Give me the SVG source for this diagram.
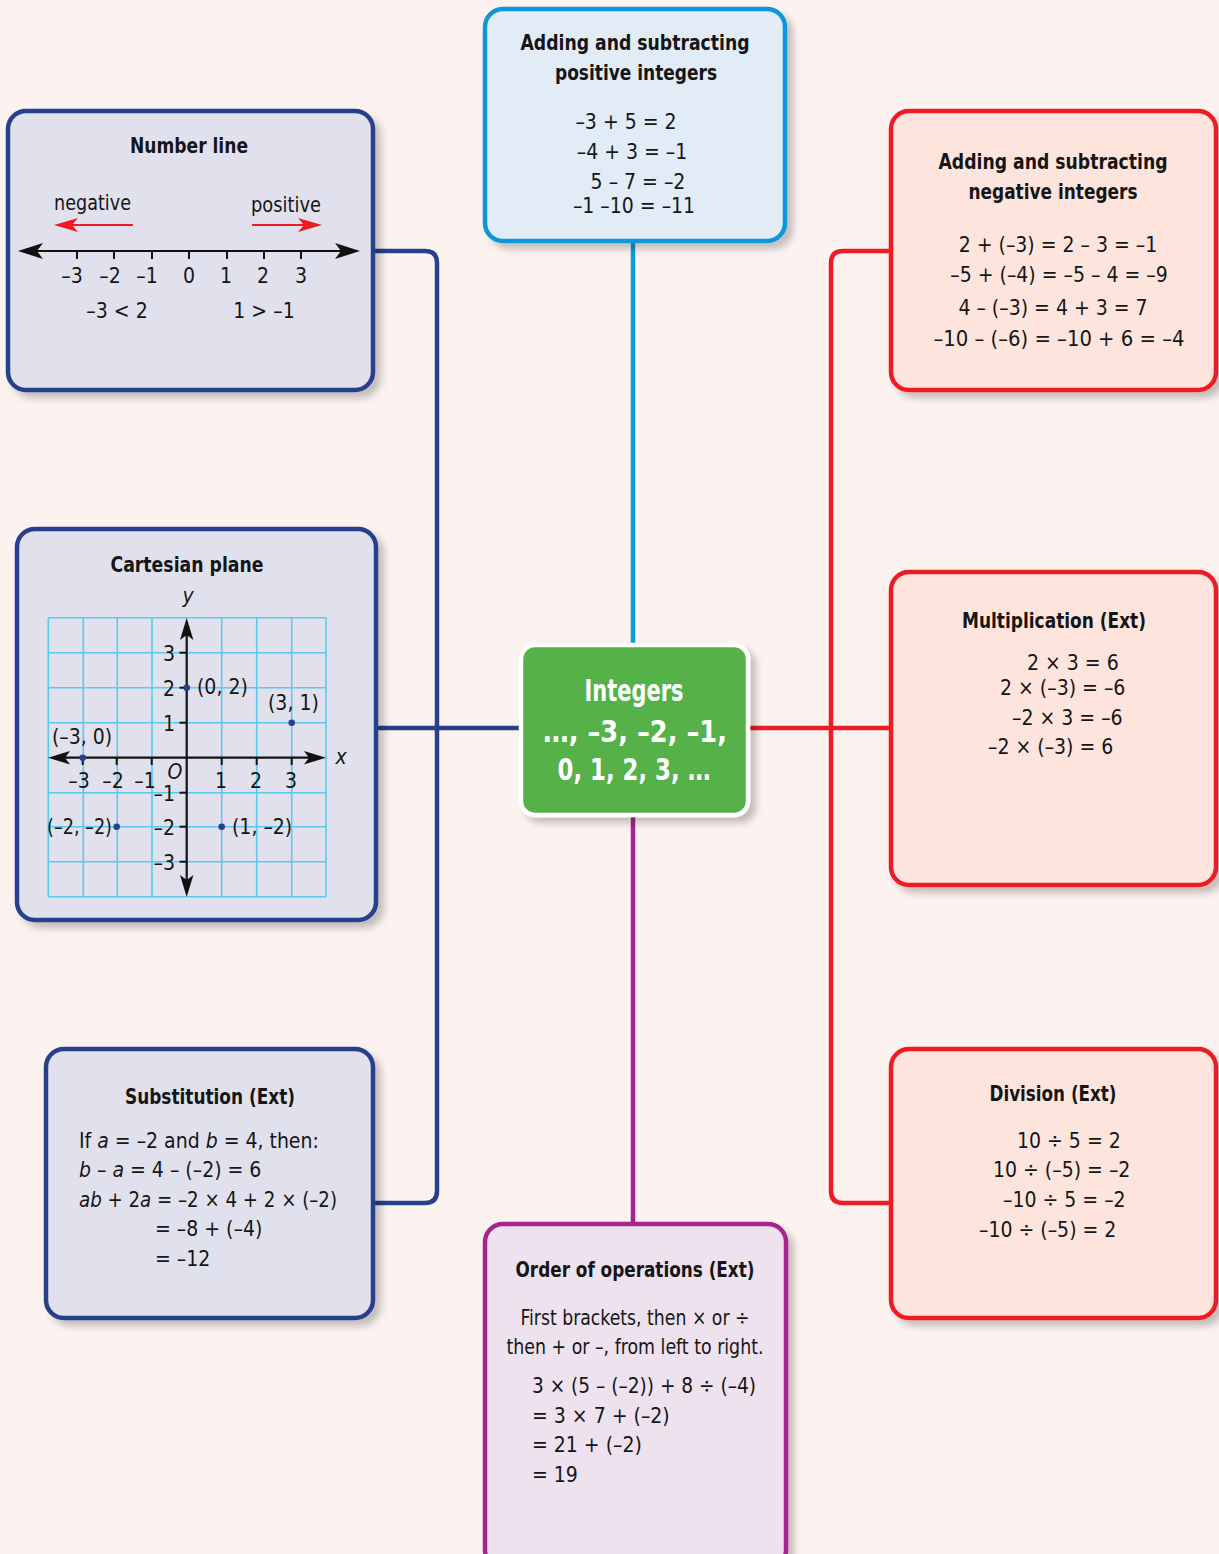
<svg xmlns="http://www.w3.org/2000/svg" width="1219" height="1554" viewBox="0 0 1219 1554">
<defs>
<filter id="sh" x="-10%" y="-10%" width="130%" height="130%">
<feDropShadow dx="6" dy="6" stdDeviation="3.5" flood-color="#000" flood-opacity="0.22"/>
</filter>
<style>
.t{font-family:"Liberation Sans Narrow","DejaVu Sans Condensed","Liberation Sans",Arial,sans-serif;font-size:21px;fill:#151515}
.h{font-weight:bold;font-size:22px;text-anchor:middle}
.c{text-anchor:middle}
.e{text-anchor:end}
.i{font-style:italic}
.w{font-weight:bold;font-size:31px;fill:#fff;text-anchor:middle}
.bl{fill:#e1e1ee;stroke:#273f8d;stroke-width:4.5}
.lb{fill:#e1ecf7;stroke:#1197d8;stroke-width:4.5}
.rd{fill:#fde5dd;stroke:#ed1c24;stroke-width:4.5}
.pu{fill:#eee2ef;stroke:#a3258e;stroke-width:4.5}
.grid line{stroke:#5cc8f0;stroke-width:1.6}
.ax{stroke:#111;stroke-width:2.2;fill:none}
.tk{stroke:#111;stroke-width:2}
.dot{fill:#273f8d}
</style>
</defs>
<rect width="1219" height="1554" fill="#fcf3f0"/>

<g id="connectors" fill="none" stroke-width="4.5">
<path d="M373,251 H425 Q437,251 437,263 V1191 Q437,1203 425,1203 H373" stroke="#273f8d"/>
<path d="M376,728 H520" stroke="#273f8d"/>
<path d="M890,251 H843 Q831,251 831,263 V1191 Q831,1203 843,1203 H890" stroke="#ed1c24"/>
<path d="M748,728 H890" stroke="#ed1c24"/>
<path d="M633,241 V646" stroke="#1197d8"/>
<path d="M633,813 V1224" stroke="#a3258e"/>
</g>

<g id="number-line">
<rect x="8" y="111" width="365" height="279" rx="18" class="bl" filter="url(#sh)"/>
<text x="189" y="153" class="t h" textLength="118" lengthAdjust="spacingAndGlyphs">Number line</text>
<text x="54" y="210" class="t" textLength="77" lengthAdjust="spacingAndGlyphs">negative</text>
<text x="251" y="212" class="t" textLength="70" lengthAdjust="spacingAndGlyphs">positive</text>
<line x1="70" y1="225" x2="133" y2="225" stroke="#ed1c24" stroke-width="2"/>
<path d="M54,225 L78,218 L72,225 L78,232 Z" fill="#ed1c24"/>
<line x1="252" y1="225" x2="306" y2="225" stroke="#ed1c24" stroke-width="2"/>
<path d="M322,225 L298,218 L304,225 L298,232 Z" fill="#ed1c24"/>
<line x1="30" y1="251" x2="348" y2="251" class="ax"/>
<path d="M18,251 L43,243 L37,251 L43,259 Z" fill="#111"/>
<path d="M360,251 L335,243 L341,251 L335,259 Z" fill="#111"/>
<g class="tk">
<line x1="77" y1="251" x2="77" y2="259"/><line x1="114" y1="251" x2="114" y2="259"/><line x1="152" y1="251" x2="152" y2="259"/><line x1="189" y1="251" x2="189" y2="259"/><line x1="227" y1="251" x2="227" y2="259"/><line x1="264" y1="251" x2="264" y2="259"/><line x1="301" y1="251" x2="301" y2="259"/>
</g>
<text x="72" y="283" class="t c">–3</text>
<text x="110" y="283" class="t c">–2</text>
<text x="147" y="283" class="t c">–1</text>
<text x="189" y="283" class="t c">0</text>
<text x="226" y="283" class="t c">1</text>
<text x="263" y="283" class="t c">2</text>
<text x="301" y="283" class="t c">3</text>
<text x="117" y="318" class="t c">–3 &lt; 2</text>
<text x="264" y="318" class="t c">1 &gt; –1</text>
</g>

<g id="cartesian-plane">
<rect x="17" y="529" width="359" height="391" rx="18" class="bl" filter="url(#sh)"/>
<text x="187" y="572" class="t h" textLength="153" lengthAdjust="spacingAndGlyphs">Cartesian plane</text>
<g class="grid">
<line x1="48.3" y1="617.7" x2="48.3" y2="896.7"/><line x1="83.3" y1="617.7" x2="83.3" y2="896.7"/><line x1="117.3" y1="617.7" x2="117.3" y2="896.7"/><line x1="152" y1="617.7" x2="152" y2="896.7"/><line x1="221.7" y1="617.7" x2="221.7" y2="896.7"/><line x1="256.7" y1="617.7" x2="256.7" y2="896.7"/><line x1="291.7" y1="617.7" x2="291.7" y2="896.7"/><line x1="326" y1="617.7" x2="326" y2="896.7"/>
<line x1="48.3" y1="617.7" x2="326" y2="617.7"/><line x1="48.3" y1="652.7" x2="326" y2="652.7"/><line x1="48.3" y1="687.7" x2="326" y2="687.7"/><line x1="48.3" y1="722.7" x2="326" y2="722.7"/><line x1="48.3" y1="792.7" x2="326" y2="792.7"/><line x1="48.3" y1="826.7" x2="326" y2="826.7"/><line x1="48.3" y1="861.7" x2="326" y2="861.7"/><line x1="48.3" y1="896.7" x2="326" y2="896.7"/>
</g>
<line x1="58" y1="757.7" x2="316" y2="757.7" class="ax"/>
<line x1="186.7" y1="628" x2="186.7" y2="887" class="ax"/>
<path d="M48,757.7 L70,751 L65,757.7 L70,764.4 Z" fill="#111"/>
<path d="M326,757.7 L304,751 L309,757.7 L304,764.4 Z" fill="#111"/>
<path d="M186.7,618 L180,640 L186.7,635 L193.4,640 Z" fill="#111"/>
<path d="M186.7,897 L180,875 L186.7,880 L193.4,875 Z" fill="#111"/>
<g class="tk">
<line x1="82.7" y1="757.7" x2="82.7" y2="765"/><line x1="116.7" y1="757.7" x2="116.7" y2="765"/><line x1="151.7" y1="757.7" x2="151.7" y2="765"/><line x1="221.7" y1="757.7" x2="221.7" y2="765"/><line x1="256.7" y1="757.7" x2="256.7" y2="765"/><line x1="291.7" y1="757.7" x2="291.7" y2="765"/>
<line x1="179.5" y1="652.7" x2="186.7" y2="652.7"/><line x1="179.5" y1="687.7" x2="186.7" y2="687.7"/><line x1="179.5" y1="722.7" x2="186.7" y2="722.7"/><line x1="179.5" y1="792.7" x2="186.7" y2="792.7"/><line x1="179.5" y1="826.7" x2="186.7" y2="826.7"/><line x1="179.5" y1="861.7" x2="186.7" y2="861.7"/>
</g>
<text x="188" y="603" class="t c i">y</text>
<text x="341" y="764" class="t c i">x</text>
<text x="175" y="779" class="t c i">O</text>
<text x="79" y="788" class="t c">–3</text>
<text x="113" y="788" class="t c">–2</text>
<text x="145" y="788" class="t c">–1</text>
<text x="221" y="788" class="t c">1</text>
<text x="256" y="788" class="t c">2</text>
<text x="291" y="788" class="t c">3</text>
<text x="175" y="661" class="t e">3</text>
<text x="175" y="696" class="t e">2</text>
<text x="175" y="731" class="t e">1</text>
<text x="175" y="801" class="t e">–1</text>
<text x="175" y="835" class="t e">–2</text>
<text x="175" y="870" class="t e">–3</text>
<circle cx="82.7" cy="757.7" r="3.3" class="dot"/>
<circle cx="186.7" cy="687.7" r="3.3" class="dot"/>
<circle cx="291.7" cy="722.7" r="3.3" class="dot"/>
<circle cx="116.7" cy="826.7" r="3.3" class="dot"/>
<circle cx="221.7" cy="826.7" r="3.3" class="dot"/>
<text x="197" y="694" class="t">(0, 2)</text>
<text x="268" y="710" class="t">(3, 1)</text>
<text x="52" y="744" class="t">(–3, 0)</text>
<text x="47" y="834" class="t" textLength="65" lengthAdjust="spacingAndGlyphs">(–2, –2)</text>
<text x="232" y="834" class="t">(1, –2)</text>
</g>

<g id="substitution">
<rect x="46" y="1049" width="327" height="269" rx="18" class="bl" filter="url(#sh)"/>
<text x="210" y="1104" class="t h" textLength="170" lengthAdjust="spacingAndGlyphs">Substitution (Ext)</text>
<text x="79" y="1148" class="t">If <tspan class="i">a</tspan> = –2 and <tspan class="i">b</tspan> = 4, then:</text>
<text x="79" y="1177" class="t"><tspan class="i">b</tspan> – <tspan class="i">a</tspan> = 4 – (–2) = 6</text>
<text x="79" y="1207" class="t" textLength="258" lengthAdjust="spacingAndGlyphs"><tspan class="i">ab</tspan> + 2<tspan class="i">a</tspan> = –2 × 4 + 2 × (–2)</text>
<text x="155" y="1236" class="t">= –8 + (–4)</text>
<text x="155" y="1266" class="t">= –12</text>
</g>

<g id="adding-positive">
<rect x="485" y="9" width="300" height="232" rx="18" class="lb" filter="url(#sh)"/>
<text x="635" y="50" class="t h" textLength="229" lengthAdjust="spacingAndGlyphs">Adding and subtracting</text>
<text x="636" y="80" class="t h" textLength="162" lengthAdjust="spacingAndGlyphs">positive integers</text>
<text x="626" y="129" class="t c">–3 + 5 = 2</text>
<text x="632" y="159" class="t c">–4 + 3 = –1</text>
<text x="638" y="189" class="t c">5 – 7 = –2</text>
<text x="634" y="213" class="t c">–1 –10 = –11</text>
</g>

<g id="integers">
<rect x="521" y="645" width="227" height="170" rx="14" fill="#57b14a" stroke="#fff" stroke-width="4.5" filter="url(#sh)"/>
<text x="634" y="701" class="t w" textLength="99" lengthAdjust="spacingAndGlyphs">Integers</text>
<text x="635" y="742" class="t w" textLength="184" lengthAdjust="spacingAndGlyphs">…, –3, –2, –1,</text>
<text x="634" y="780" class="t w" textLength="153" lengthAdjust="spacingAndGlyphs">0, 1, 2, 3, …</text>
</g>

<g id="adding-negative">
<rect x="891" y="111" width="325" height="279" rx="18" class="rd" filter="url(#sh)"/>
<text x="1053" y="169" class="t h" textLength="229" lengthAdjust="spacingAndGlyphs">Adding and subtracting</text>
<text x="1053" y="199" class="t h" textLength="169" lengthAdjust="spacingAndGlyphs">negative integers</text>
<text x="1058" y="252" class="t c">2 + (–3) = 2 – 3 = –1</text>
<text x="1059" y="282" class="t c">–5 + (–4) = –5 – 4 = –9</text>
<text x="1053" y="315" class="t c">4 – (–3) = 4 + 3 = 7</text>
<text x="1059" y="346" class="t c" textLength="251" lengthAdjust="spacingAndGlyphs">–10 – (–6) = –10 + 6 = –4</text>
</g>

<g id="multiplication">
<rect x="891" y="572" width="325" height="313" rx="18" class="rd" filter="url(#sh)"/>
<text x="1054" y="628" class="t h" textLength="184" lengthAdjust="spacingAndGlyphs">Multiplication (Ext)</text>
<text x="1027" y="670" class="t">2 × 3 = 6</text>
<text x="1000" y="695" class="t">2 × (–3) = –6</text>
<text x="1012" y="725" class="t">–2 × 3 = –6</text>
<text x="988" y="754" class="t">–2 × (–3) = 6</text>
</g>

<g id="division">
<rect x="891" y="1049" width="325" height="269" rx="18" class="rd" filter="url(#sh)"/>
<text x="1053" y="1101" class="t h" textLength="127" lengthAdjust="spacingAndGlyphs">Division (Ext)</text>
<text x="1017" y="1148" class="t">10 ÷ 5 = 2</text>
<text x="993" y="1177" class="t">10 ÷ (–5) = –2</text>
<text x="1003" y="1207" class="t">–10 ÷ 5 = –2</text>
<text x="979" y="1237" class="t">–10 ÷ (–5) = 2</text>
</g>

<g id="order-of-operations">
<rect x="485" y="1224" width="301" height="345" rx="18" class="pu" filter="url(#sh)"/>
<text x="635" y="1277" class="t h" textLength="239" lengthAdjust="spacingAndGlyphs">Order of operations (Ext)</text>
<text x="635" y="1325" class="t c" textLength="229" lengthAdjust="spacingAndGlyphs">First brackets, then × or ÷</text>
<text x="635" y="1354" class="t c" textLength="257" lengthAdjust="spacingAndGlyphs">then + or –, from left to right.</text>
<text x="532" y="1393" class="t" textLength="224" lengthAdjust="spacingAndGlyphs">3 × (5 – (–2)) + 8 ÷ (–4)</text>
<text x="532" y="1423" class="t">= 3 × 7 + (–2)</text>
<text x="532" y="1452" class="t">= 21 + (–2)</text>
<text x="532" y="1482" class="t">= 19</text>
</g>
</svg>
